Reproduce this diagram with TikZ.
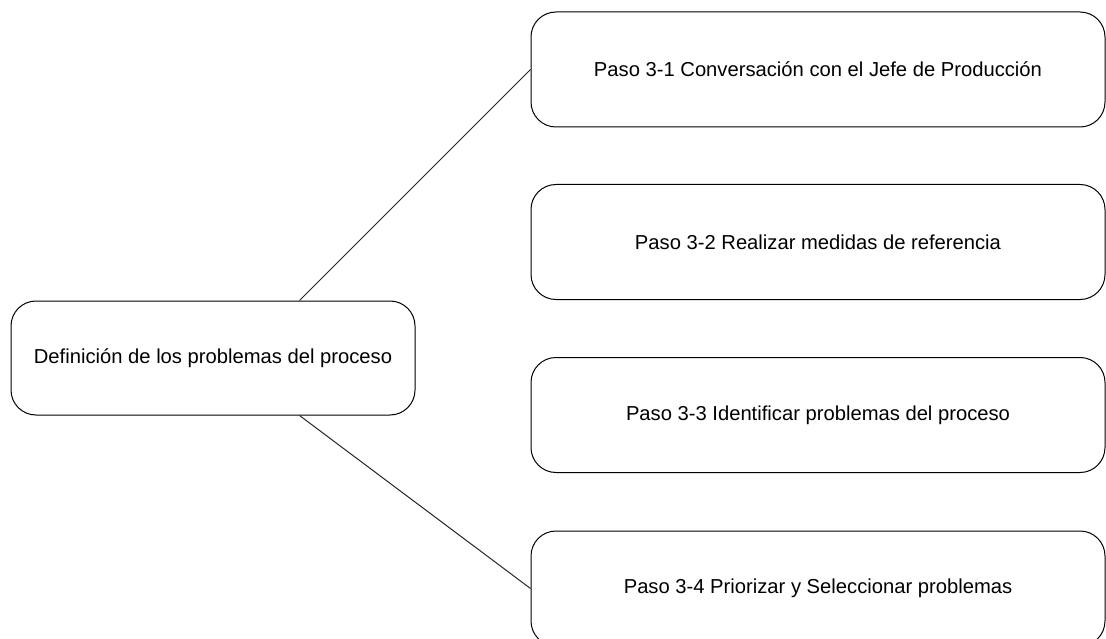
\documentclass[tikz,border=0pt]{standalone}
\usepackage{fontspec}
\setmainfont{Liberation Sans}
\usetikzlibrary{calc}
\begin{document}
\begin{tikzpicture}[x=1pt,y=-1pt,
  box/.style={draw=black,line width=1pt,rounded corners=25pt,fill=white,
    inner sep=0pt,font=\fontsize{20.2}{24}\selectfont},
  lbox/.style={box,minimum width=404pt,minimum height=114pt},
  rbox/.style={box,minimum width=574pt,minimum height=115pt},
  conn/.style={draw=black!85,line width=1pt}]
\useasboundingbox (0,0) rectangle (1106,639);
\node[lbox] (L) at (213,358) {Definición de los problemas del proceso};
\node[rbox] (R1) at (818,69.5) {Paso 3-1 Conversación con el Jefe de Producción};
\node[rbox] (R2) at (818,242) {Paso 3-2 Realizar medidas de referencia};
\node[rbox] (R3) at (818,415) {Paso 3-3 Identificar problemas del proceso};
\node[rbox] (R4) at (818,588.5) {Paso 3-4 Priorizar y Seleccionar problemas};
\draw[conn] ($(L.north west)+(289,0)$) -- (R1.west);
\draw[conn] ($(L.south west)+(289,0)$) -- (R4.west);
\end{tikzpicture}
\end{document}
